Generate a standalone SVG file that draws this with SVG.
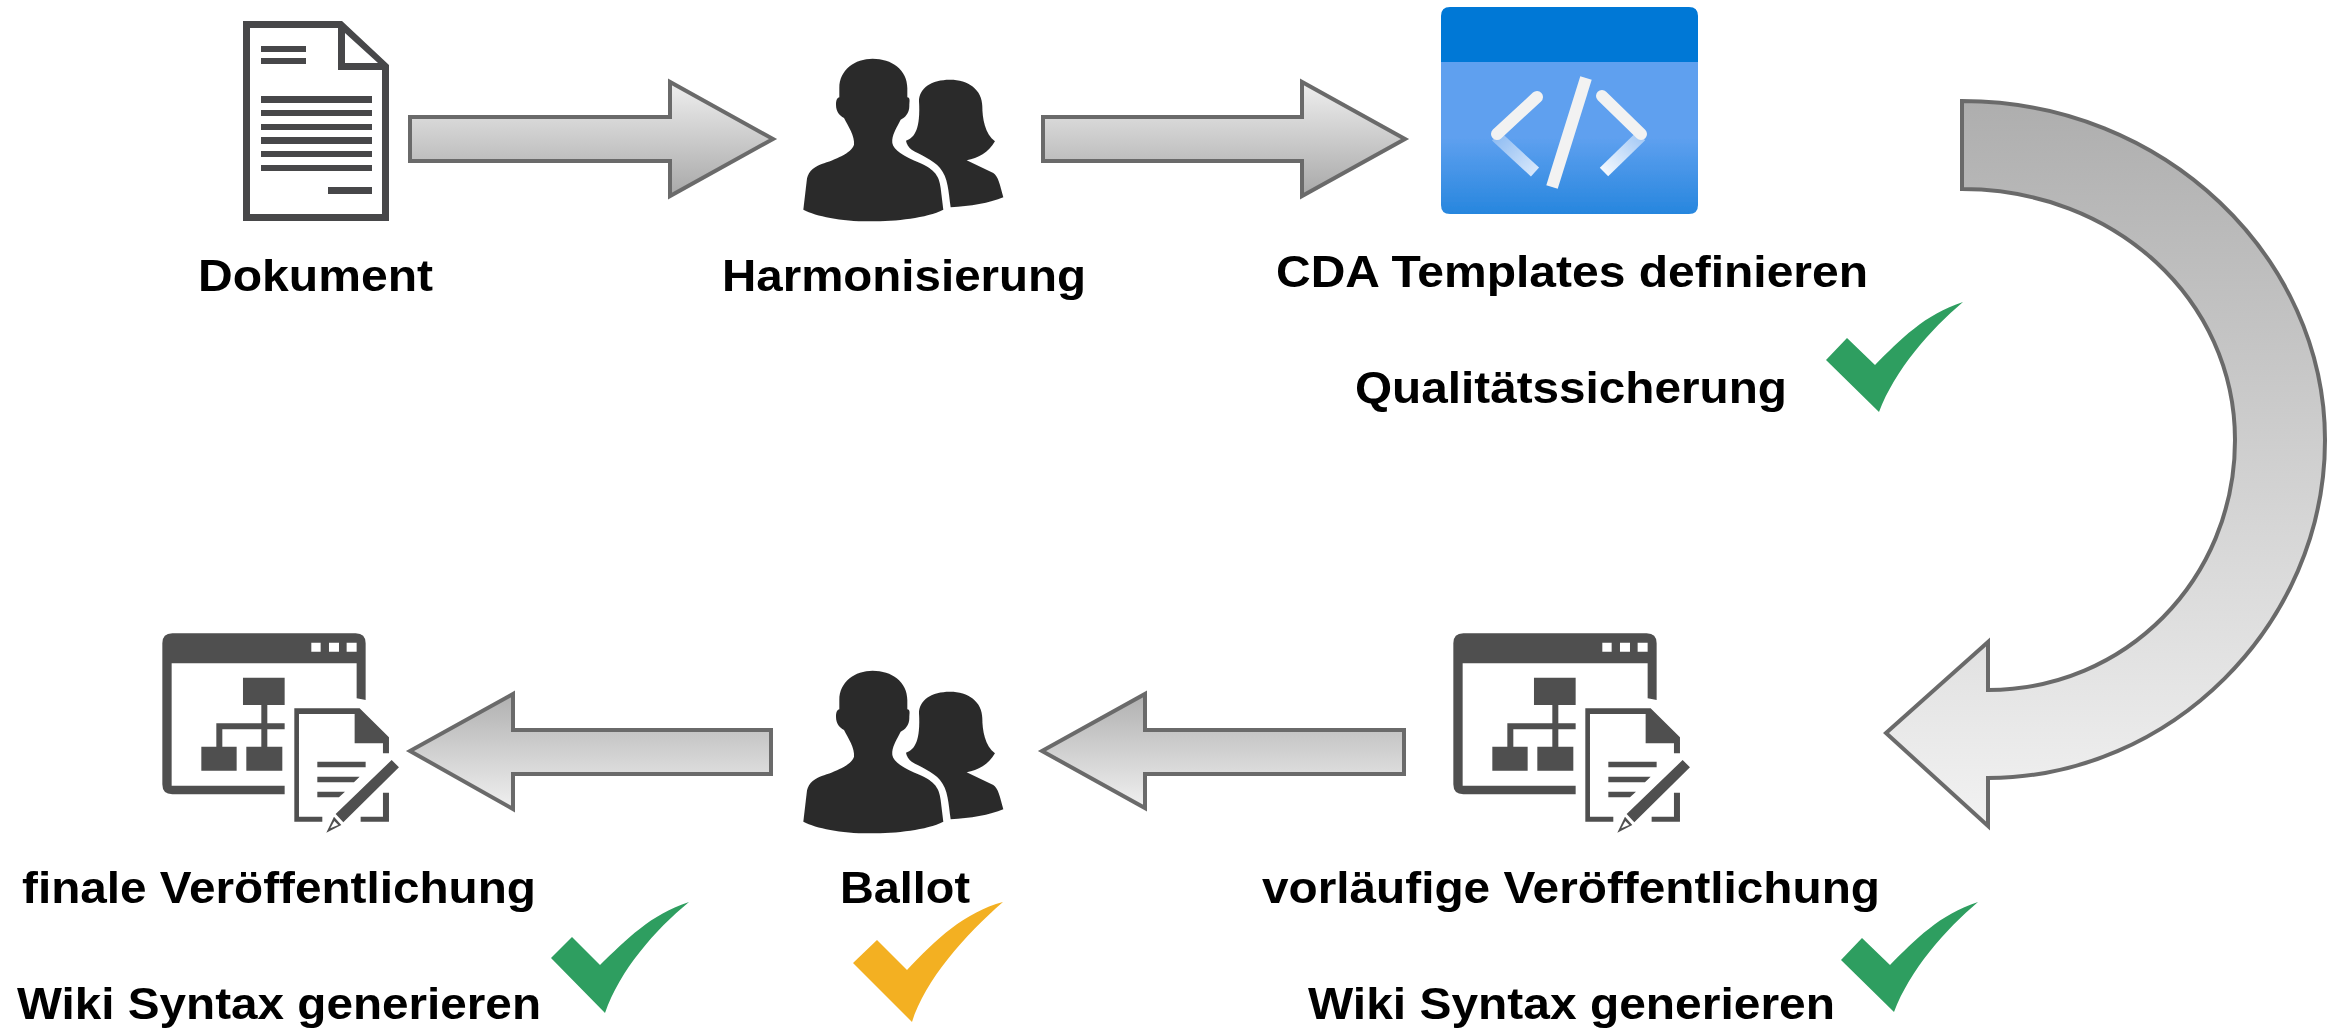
<svg xmlns="http://www.w3.org/2000/svg" width="2340" height="1031" viewBox="0 0 2340 1031">
<style>
text{font-family:"Liberation Sans",Arial,sans-serif;font-weight:700;font-size:44px;fill:#000}
.arr{stroke:#6b6b6b;stroke-width:4;stroke-linejoin:miter}
.dk{fill:#464749}
.ic{fill:#505050}
.pp{fill:#2c2c2c}
.ln{fill:none;stroke:#f2f2f2;stroke-width:12}
.soft{filter:url(#soft)}
</style>
<defs>
<filter id="soft" x="-5%" y="-5%" width="110%" height="110%"><feGaussianBlur stdDeviation="0.7"/></filter>
<linearGradient id="gDown" x1="0" y1="0" x2="0" y2="1"><stop offset="0" stop-color="#efefef"/><stop offset="1" stop-color="#a8a8a8"/></linearGradient>
<linearGradient id="gUp" x1="0" y1="0" x2="0" y2="1"><stop offset="0" stop-color="#b0b0b0"/><stop offset="1" stop-color="#f0f0f0"/></linearGradient>
<linearGradient id="gCurve" x1="0" y1="0" x2="0" y2="1"><stop offset="0" stop-color="#aeaeae"/><stop offset="1" stop-color="#f2f2f2"/></linearGradient>
<linearGradient id="gBlue" x1="0" y1="0" x2="0" y2="1"><stop offset="0" stop-color="#5ea0ef"/><stop offset="0.5" stop-color="#5ea0ef"/><stop offset="1" stop-color="#2786de"/></linearGradient>
<linearGradient id="gFadeL" gradientUnits="userSpaceOnUse" x1="1496" y1="136" x2="1535" y2="172"><stop offset="0" stop-color="#8fbcf2"/><stop offset="1" stop-color="#d6e7fb"/></linearGradient>
<linearGradient id="gFadeR" gradientUnits="userSpaceOnUse" x1="1641" y1="136" x2="1604" y2="172"><stop offset="0" stop-color="#a4c9f5"/><stop offset="1" stop-color="#f2f8fe"/></linearGradient>
<g id="people">
<path class="pp" transform="scale(0.3333)" d="M178 150C178 95 225 62 278 62C335 62 382 95 382 150L382 178C392 180 388 190 388 205C388 225 375 240 362 245C350 270 335 290 337 315C340 335 370 355 420 375C465 395 478 415 482 450L490 515C440 540 350 550 270 550C180 550 110 535 70 515L80 430C82 405 95 390 125 378C165 365 215 345 222 320C225 295 205 265 192 240C178 232 168 220 168 200C168 185 172 180 178 178Z"/>
<path class="pp" transform="scale(0.3333)" d="M417 190C417 150 455 125 510 125C565 125 607 155 607 205C607 240 615 290 645 310C625 345 595 360 560 367L640 405C655 415 660 440 670 478C630 495 570 505 512 508C505 460 505 420 480 390C460 365 420 350 395 335C385 328 380 318 378 308C405 300 422 270 417 190Z"/>
</g>
<g id="wiki" transform="scale(0.3333)">
<path class="ic" fill-rule="evenodd" d="M190 40H740Q770 40 770 70V240L743 235V130H188V497H527V523H190Q160 523 160 493V70Q160 40 190 40ZM607 68V95H635V68ZM660 68V95H690V68ZM713 68V95H743V68Z"/>
<path class="ic" d="M402 173H527V255H475V310H527V328H475V380H520V452H412V380H457V328H340V380H383V452H277V380H322V310H457V255H402Z"/>
<path class="ic" d="M556 265H752L840 352V400H822V370H737V282H570V590H640V605H556ZM755 590H822V518H840V605H755Z"/>
<path class="ic" d="M625 425H770V442H625ZM625 470H752L735 487H625ZM625 515H708L690 532H625Z"/>
<path class="ic" d="M848 420L870 442L703 607L680 582ZM675 590L697 615L652 638Z"/>
<path fill="#fff" d="M676 603L688 615L664 625Z"/>
</g>
</defs>
<rect width="2340" height="1031" fill="#fff"/>
<g id="connectors" class="soft">
<path class="arr" fill="url(#gDown)" d="M410 117H670V82L773 139L670 196V161H410Z"/>
<path class="arr" fill="url(#gDown)" d="M1043 117H1302V82L1405 139L1302 196V161H1043Z"/>
<path class="arr" fill="url(#gCurve)" d="M1962 101C2165 101 2325 258 2325 440C2325 625 2170 778 1988 778V826L1886 733L1988 642V690C2125 690 2235 580 2235 440C2235 300 2115 189 1962 189Z"/>
<path class="arr" fill="url(#gUp)" d="M1404 730H1145V694L1042 751L1145 808V774H1404Z"/>
<path class="arr" fill="url(#gUp)" d="M771 730H513V694L410 751L513 809V774H771Z"/>
</g>
<g id="node-dokument" class="soft">
<path class="dk" fill-rule="evenodd" d="M243 21H342L389 65V221H243ZM250 28V214H382V70H338V28ZM345 33V63H378Z"/>
<path class="dk" d="M261 46H306V52H261ZM261 58H306V64H261ZM261 96H372V103H261ZM261 110H372V116H261ZM261 124H372V130H261ZM261 137H372V144H261ZM261 151H372V157H261ZM261 165H372V171H261ZM328 187H372V194H328Z"/>
<text x="198" y="291" textLength="235" lengthAdjust="spacingAndGlyphs">Dokument</text>
</g>
<g id="node-harmonisierung" class="soft">
<use href="#people" x="780" y="38"/>
<text x="722" y="291" textLength="364" lengthAdjust="spacingAndGlyphs">Harmonisierung</text>
</g>
<g id="node-cda" class="soft">
<path fill="url(#gBlue)" d="M1441 62H1698V205Q1698 214 1689 214H1450Q1441 214 1441 205Z"/>
<path fill="#0278d6" d="M1450 7H1689Q1698 7 1698 16V62H1441V16Q1441 7 1450 7Z"/>
<path fill="none" stroke="url(#gFadeL)" stroke-width="12" d="M1496 136L1535 172"/>
<path fill="none" stroke="url(#gFadeR)" stroke-width="12" d="M1641 136L1604 172"/>
<path class="ln" stroke-linecap="round" d="M1537 97L1497 134M1602 96L1641 134"/>
<path class="ln" d="M1586 78L1552 187"/>
<text x="1276" y="287" textLength="592" lengthAdjust="spacingAndGlyphs">CDA Templates definieren</text>
</g>
<g id="node-qualitaet" class="soft">
<text x="1355" y="403" textLength="432" lengthAdjust="spacingAndGlyphs">Qualitätssicherung</text>
<path fill="#2f9e60" d="M1963 302C1925 314 1900 340 1875 365L1847 338L1826 360L1879 412C1895 370 1930 330 1963 302Z"/>
</g>
<g id="node-vorlaeufig" class="soft">
<use href="#wiki" x="1400" y="620"/>
<text x="1262" y="903" textLength="618" lengthAdjust="spacingAndGlyphs">vorläufige Veröffentlichung</text>
<text x="1308" y="1019" textLength="527" lengthAdjust="spacingAndGlyphs">Wiki Syntax generieren</text>
<path fill="#2f9e60" d="M1978 902C1940 914 1915 940 1890 965L1862 938L1841 960L1894 1012C1910 970 1945 930 1978 902Z"/>
</g>
<g id="node-ballot" class="soft">
<use href="#people" x="780" y="650"/>
<text x="840" y="903" textLength="130" lengthAdjust="spacingAndGlyphs">Ballot</text>
<path fill="#f3b022" d="M1003 902C965 912 935 940 907 970L877 940L853 963L912 1022C925 980 965 935 1003 902Z"/>
</g>
<g id="node-final" class="soft">
<use href="#wiki" x="109" y="620"/>
<text x="22" y="903" textLength="514" lengthAdjust="spacingAndGlyphs">finale Veröffentlichung</text>
<text x="17" y="1019" textLength="524" lengthAdjust="spacingAndGlyphs">Wiki Syntax generieren</text>
<path fill="#2f9e60" d="M689 902C651 914 626 940 600 965L572 937L551 958L605 1013C620 970 655 930 689 902Z"/>
</g>
</svg>
